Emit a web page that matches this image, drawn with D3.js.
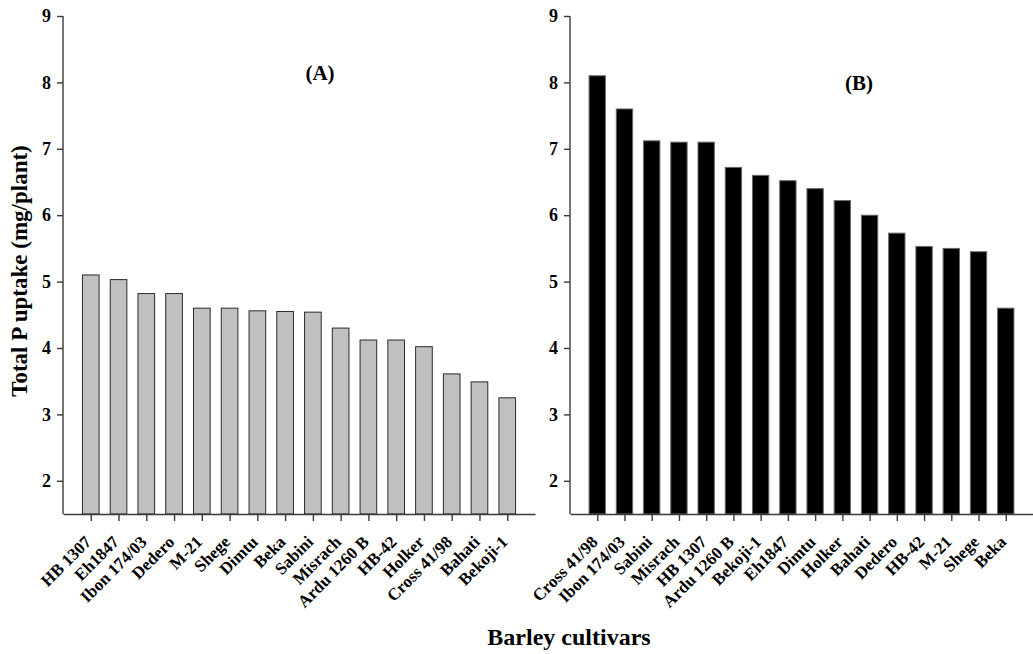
<!DOCTYPE html>
<html>
<head>
<meta charset="utf-8">
<script src="https://cdn.jsdelivr.net/npm/d3@7"></script>
<style>
  html, body { margin: 0; padding: 0; background: #fff; }
  svg { display: block; }
  text { font-family: "Liberation Serif", "Times New Roman", serif; font-weight: bold; fill: #000; }
</style>
</head>
<body>
<svg id="chart" width="1033" height="654"></svg>
<script>
// Panel A: cultivars and total P uptake (mg/plant)
const cultivarsA = ["HB 1307", "Eh1847", "Ibon 174/03", "Dedero", "M-21", "Shege", "Dimtu", "Beka",
  "Sabini", "Misrach", "Ardu 1260 B", "HB-42", "Holker", "Cross 41/98", "Bahati", "Bekoji-1"];
const uptakeA = [5.10, 5.03, 4.82, 4.82, 4.60, 4.60, 4.56, 4.55, 4.54, 4.30, 4.12, 4.12, 4.02, 3.61, 3.49, 3.25];

// Panel B: cultivars and total P uptake (mg/plant)
const cultivarsB = ["Cross 41/98", "Ibon 174/03", "Sabini", "Misrach", "HB 1307", "Ardu 1260 B", "Bekoji-1",
  "Eh1847", "Dimtu", "Holker", "Bahati", "Dedero", "HB-42", "M-21", "Shege", "Beka"];
const uptakeB = [8.10, 7.60, 7.12, 7.10, 7.10, 6.72, 6.60, 6.52, 6.40, 6.22, 6.00, 5.73, 5.53, 5.50, 5.45, 4.60];

const yTicks = [2, 3, 4, 5, 6, 7, 8, 9];
const yDomain = [1.5, 9];

const svg = d3.select("#chart");
const axisColor = "#3a3a3a";

const y = d3.scaleLinear().domain(yDomain).range([514, 16]);

function drawPanel(opts) {
  const { names, values, x0, x1, fill, stroke, tag, tagX, tagY } = opts;
  const g = svg.append("g");

  const x = d3.scalePoint().domain(names).range([x0, x1]).padding(1);
  const barW = x.step() * 0.6;

  // bars
  g.selectAll("rect.bar")
    .data(names.map((n, i) => ({ name: n, value: values[i] })))
    .join("rect")
    .attr("class", "bar")
    .attr("x", d => x(d.name) - barW / 2)
    .attr("y", d => y(d.value))
    .attr("width", barW)
    .attr("height", d => y(yDomain[0]) - y(d.value))
    .attr("fill", fill)
    .attr("stroke", stroke)
    .attr("stroke-width", 1);

  // y axis
  const yAxis = g.append("g")
    .attr("transform", `translate(${x0},0)`)
    .call(d3.axisLeft(y).tickValues(yTicks).tickFormat(d3.format("d")).tickSize(6).tickPadding(6).tickSizeOuter(0));
  yAxis.selectAll("text").attr("font-size", 18).style("font-family", '"Liberation Serif", serif').style("font-weight", "bold");

  // x axis
  const xAxis = g.append("g")
    .attr("transform", `translate(0,${y(yDomain[0])})`)
    .call(d3.axisBottom(x).tickSize(7).tickSizeOuter(0));
  xAxis.selectAll("text")
    .attr("font-size", 17)
    .style("font-family", '"Liberation Serif", serif')
    .style("font-weight", "bold")
    .attr("text-anchor", "end")
    .attr("dy", null)
    .attr("y", null)
    .attr("x", null)
    .attr("transform", "translate(1,29) rotate(-45)");

  [yAxis, xAxis].forEach(a => {
    a.selectAll("path, line").attr("stroke", axisColor).attr("stroke-width", 1.4);
  });
  yAxis.select(".domain").attr("d", `M0,${y(yDomain[0])}V${y(9)}`);

  // panel tag
  g.append("text")
    .attr("x", tagX)
    .attr("y", tagY)
    .attr("text-anchor", "middle")
    .attr("font-size", 21)
    .text(tag);
}

drawPanel({ names: cultivarsA, values: uptakeA, x0: 63, x1: 535, fill: "#c0c0c0", stroke: "#2a2a2a",
  tag: "(A)", tagX: 320, tagY: 80 });
drawPanel({ names: cultivarsB, values: uptakeB, x0: 570, x1: 1033, fill: "#000", stroke: "#6a6a6a",
  tag: "(B)", tagX: 859, tagY: 90 });

// shared axis titles
svg.append("text")
  .attr("transform", "translate(27,271) rotate(-90)")
  .attr("text-anchor", "middle")
  .attr("font-size", 23)
  .text("Total P uptake (mg/plant)");

svg.append("text")
  .attr("x", 569)
  .attr("y", 645)
  .attr("text-anchor", "middle")
  .attr("font-size", 24)
  .text("Barley cultivars");
</script>
</body>
</html>
